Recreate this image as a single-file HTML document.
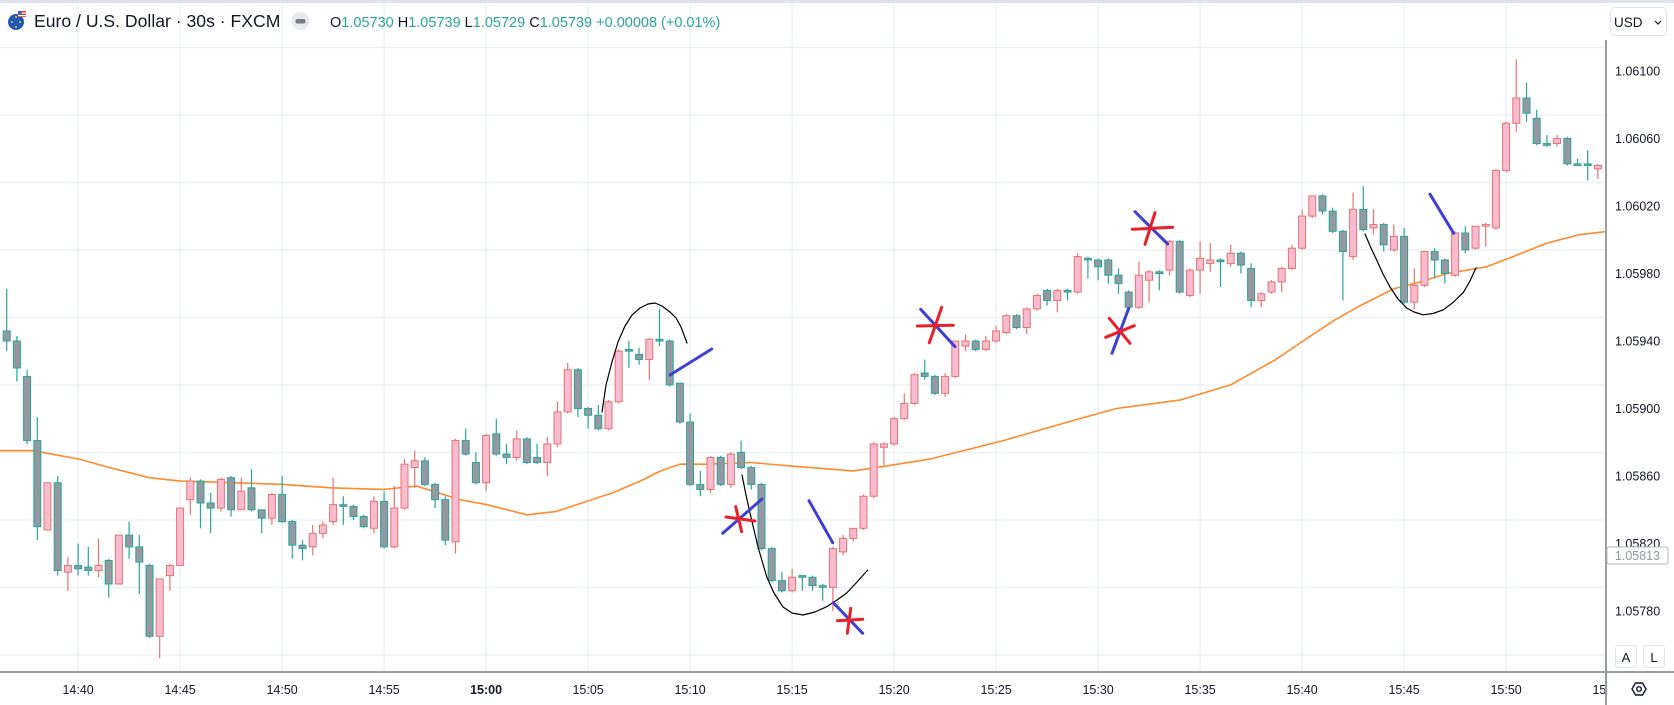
<!DOCTYPE html>
<html><head><meta charset="utf-8"><style>
html,body{margin:0;padding:0;background:#fff;width:1674px;height:705px;overflow:hidden;font-family:"Liberation Sans",sans-serif}
svg{display:block}
</style></head><body>
<svg id="chart" width="1674" height="705" viewBox="0 0 1674 705" xmlns="http://www.w3.org/2000/svg">
<rect x="0" y="0" width="1674" height="705" fill="#fff"/>
<rect x="0" y="0" width="1674" height="3" fill="#e0e3eb"/>
<defs><clipPath id="plotclip"><rect x="0" y="3" width="1606" height="669"/></clipPath></defs>
<g id="grid"></g>
<g id="ma" clip-path="url(#plotclip)"></g>
<g id="candles" clip-path="url(#plotclip)"></g>
<g id="drawings" fill="none" stroke-linecap="round" stroke-linejoin="round">
  <polyline stroke="#000" stroke-width="1.2" points="602,412 606,385 612,362 618,342 625,326 632,315 640,308 648,304 655,303 662,306 670,312 676,318 681,327 687,343"/>
  <polyline stroke="#000" stroke-width="1.2" points="742,475 746,495 750,513 758,547 766.7,576.7 774,593 783,607 792,613 803,615 815,612 826.7,606.7 837,600 846.7,593 857,582 867.7,570"/>
  <polyline stroke="#000" stroke-width="1.2" points="1365,234 1371,248 1376.7,260 1383,274 1390,287 1398,299 1406.7,308 1414,312 1423.3,314.8 1433,313.5 1443.3,309.8 1453,302.5 1463.3,292.6 1470,281 1476,267.7"/>
  <line x1="670" y1="375" x2="711.7" y2="349" stroke="#4040d0" stroke-width="3"/>
  <line x1="722.7" y1="533.3" x2="762" y2="499" stroke="#4040d0" stroke-width="3"/>
  <line x1="726" y1="517" x2="755" y2="521" stroke="#e8202a" stroke-width="3"/>
  <line x1="735.7" y1="506.7" x2="741.7" y2="531.7" stroke="#e8202a" stroke-width="3"/>
  <line x1="809" y1="500.7" x2="832.7" y2="542.7" stroke="#4040d0" stroke-width="3"/>
  <line x1="833.3" y1="602.7" x2="862.7" y2="633.3" stroke="#4040d0" stroke-width="3"/>
  <line x1="837.3" y1="620.7" x2="862.7" y2="619.3" stroke="#e8202a" stroke-width="3"/>
  <line x1="850.7" y1="608.3" x2="847.3" y2="633.3" stroke="#e8202a" stroke-width="3"/>
  <line x1="920.7" y1="309.3" x2="955" y2="346.7" stroke="#4040d0" stroke-width="3"/>
  <line x1="917.3" y1="326" x2="953.3" y2="325.3" stroke="#e8202a" stroke-width="3"/>
  <line x1="941.7" y1="307.3" x2="929.3" y2="342.7" stroke="#e8202a" stroke-width="3"/>
  <line x1="1112" y1="353.3" x2="1128.7" y2="308.3" stroke="#4040d0" stroke-width="3"/>
  <line x1="1105.7" y1="337.3" x2="1134.3" y2="325.7" stroke="#e8202a" stroke-width="3"/>
  <line x1="1109.3" y1="318.3" x2="1130" y2="343.3" stroke="#e8202a" stroke-width="3"/>
  <line x1="1135" y1="211.7" x2="1167.7" y2="244" stroke="#4040d0" stroke-width="3"/>
  <line x1="1132.3" y1="229.3" x2="1172.7" y2="227.3" stroke="#e8202a" stroke-width="3"/>
  <line x1="1155" y1="212.7" x2="1145" y2="244.3" stroke="#e8202a" stroke-width="3"/>
  <line x1="1430" y1="194.2" x2="1453.7" y2="233.3" stroke="#4040d0" stroke-width="3"/>
</g>
<g id="axes">
  <rect x="0" y="671" width="1674" height="2" fill="#9a9ca3"/>
  <rect x="1605" y="40" width="2" height="665" fill="#9a9ca3"/>
</g>
<g id="ylabels" font-size="12.5" fill="#131722"></g>
<g id="xlabels" font-size="12.5" fill="#131722"></g>
<g>
  <rect x="1607" y="547" width="61" height="17" rx="2" fill="#fff" stroke="#b2b5be" stroke-width="1"/>
  <text x="1637.5" y="560" text-anchor="middle" font-size="12.5" fill="#9598a1">1.05813</text>
</g>
<g>
  <g>
    <circle cx="16" cy="22" r="8" fill="#1f57b8"/>
    <circle cx="16" cy="17" r="1" fill="#f7d31b"/><circle cx="12" cy="22" r="1" fill="#f7d31b"/><circle cx="20" cy="22" r="1" fill="#f7d31b"/><circle cx="16" cy="27" r="1" fill="#f7d31b"/>
    <rect x="18" y="11" width="8" height="6" fill="#e53935"/><rect x="18" y="12.5" width="8" height="1.2" fill="#fff"/><rect x="18" y="15" width="8" height="1.2" fill="#fff"/><rect x="18" y="11" width="3.5" height="3" fill="#2c5cc5"/>
  </g>
  <text x="34" y="27" font-size="17.6" fill="#131722">Euro / U.S. Dollar · 30s · FXCM</text>
  <circle cx="300.5" cy="21" r="9" fill="#e8e9ed"/>
  <rect x="295.5" y="19" width="10" height="4.5" rx="2" fill="#787b86"/>
  <text x="330" y="27" font-size="14.5" fill="#26a69a"><tspan fill="#131722">O</tspan>1.05730 <tspan fill="#131722">H</tspan>1.05739 <tspan fill="#131722">L</tspan>1.05729 <tspan fill="#131722">C</tspan>1.05739 +0.00008 (+0.01%)</text>
</g>
<g>
  <rect x="1610.5" y="7.5" width="56" height="28" rx="4" fill="#fff" stroke="#e0e3eb"/>
  <text x="1614" y="27" font-size="13.5" fill="#131722">USD</text>
  <path d="M1655 21 l3 3 l3 -3" fill="none" stroke="#131722" stroke-width="1.2"/>
</g>
<g>
  <rect x="1615.5" y="645.5" width="21" height="22" rx="3" fill="#fff" stroke="#e0e3eb"/>
  <text x="1626" y="662" text-anchor="middle" font-size="13" fill="#131722">A</text>
</g>
<g>
  <rect x="1643.5" y="645.5" width="21" height="22" rx="3" fill="#fff" stroke="#e0e3eb"/>
  <text x="1654" y="662" text-anchor="middle" font-size="13" fill="#131722">L</text>
</g>
<g>
  <path d="M1632 689 l3.5 -6 h7 l3.5 6 l-3.5 6 h-7 z" fill="none" stroke="#131722" stroke-width="1.4"/>
  <circle cx="1639" cy="689" r="2.3" fill="none" stroke="#131722" stroke-width="1.4"/>
</g>
</svg>
<script>
const opens=[1.05946,1.05940,1.05919,1.05881,1.05828,1.05856,1.05803,1.05807,1.05806,1.05804,1.05810,1.05796,1.05825,1.05818,1.05807,1.05765,1.05801,1.05807,1.05846,1.05857,1.05844,1.05841,1.05859,1.05840,1.05853,1.05840,1.05835,1.05849,1.05833,1.05819,1.05818,1.05826,1.05833,1.05843,1.05842,1.05836,1.05829,1.05845,1.05818,1.05841,1.05865,1.05869,1.05855,1.05846,1.05821,1.05881,1.05868,1.05856,1.05885,1.05873,1.05871,1.05882,1.05871,1.05868,1.05879,1.05898,1.05923,1.05900,1.05896,1.05888,1.05904,1.05935,1.05932,1.05929,1.05941,1.05940,1.05915,1.05892,1.05855,1.05852,1.05871,1.05855,1.05874,1.05865,1.05855,1.05817,1.05798,1.05792,1.05801,1.05800,1.05795,1.05794,1.05815,1.05823,1.05829,1.05848,1.05877,1.05879,1.05894,1.05903,1.05921,1.05919,1.05909,1.05919,1.05937,1.05940,1.05935,1.05940,1.05945,1.05955,1.05948,1.05959,1.05970,1.05964,1.05970,1.05969,1.05989,1.05988,1.05988,1.05979,1.05969,1.05960,1.05976,1.05981,1.05982,1.05999,1.05967,1.05982,1.05986,1.05988,1.05986,1.05992,1.05983,1.05964,1.05969,1.05975,1.05983,1.05995,1.06014,1.06026,1.06017,1.06005,1.05990,1.06018,1.06007,1.06009,1.05994,1.06002,1.05963,1.05973,1.05993,1.05988,1.05979,1.06004,1.05995,1.06008,1.06007,1.06041,1.06069,1.06084,1.06072,1.06057,1.06057,1.06060,1.06045,1.06045,1.06042];
const highs=[1.05971,1.05943,1.05923,1.05895,1.05856,1.05860,1.05812,1.05820,1.05818,1.05823,1.05811,1.05825,1.05833,1.05825,1.05808,1.05799,1.05808,1.05841,1.05859,1.05858,1.05850,1.05859,1.05860,1.05859,1.05864,1.05840,1.05850,1.05860,1.05834,1.05822,1.05831,1.05833,1.05859,1.05848,1.05843,1.05837,1.05848,1.05851,1.05854,1.05870,1.05875,1.05871,1.05856,1.05848,1.05882,1.05888,1.05874,1.05885,1.05894,1.05879,1.05887,1.05883,1.05879,1.05883,1.05904,1.05927,1.05924,1.05901,1.05902,1.05905,1.05935,1.05940,1.05936,1.05942,1.05959,1.05941,1.05915,1.05897,1.05863,1.05872,1.05872,1.05874,1.05881,1.05866,1.05856,1.05818,1.05803,1.05805,1.05801,1.05801,1.05796,1.05818,1.05825,1.05829,1.05849,1.05880,1.05880,1.05895,1.05909,1.05921,1.05929,1.05920,1.05921,1.05940,1.05944,1.05941,1.05943,1.05949,1.05956,1.05956,1.05960,1.05968,1.05971,1.05971,1.05971,1.05992,1.05990,1.05989,1.05989,1.05983,1.05970,1.05987,1.05982,1.05982,1.06000,1.06000,1.05983,1.05999,1.05998,1.05989,1.05997,1.05993,1.05986,1.05969,1.05976,1.05984,1.05997,1.06018,1.06026,1.06027,1.06019,1.06006,1.06028,1.06032,1.06018,1.06010,1.06009,1.06007,1.05983,1.05993,1.05995,1.05989,1.06005,1.06008,1.06008,1.06010,1.06042,1.06070,1.06107,1.06093,1.06077,1.06062,1.06062,1.06061,1.06048,1.06053,1.06045];
const lows=[1.05934,1.05916,1.05879,1.05822,1.05828,1.05801,1.05792,1.05801,1.05801,1.05800,1.05788,1.05796,1.05811,1.05790,1.05764,1.05752,1.05792,1.05807,1.05837,1.05829,1.05826,1.05839,1.05836,1.05840,1.05839,1.05826,1.05831,1.05832,1.05811,1.05810,1.05813,1.05823,1.05831,1.05831,1.05834,1.05829,1.05826,1.05817,1.05817,1.05840,1.05853,1.05854,1.05841,1.05819,1.05814,1.05872,1.05855,1.05851,1.05872,1.05867,1.05869,1.05867,1.05867,1.05860,1.05877,1.05897,1.05895,1.05888,1.05887,1.05887,1.05903,1.05924,1.05926,1.05917,1.05937,1.05913,1.05891,1.05854,1.05848,1.05850,1.05854,1.05853,1.05864,1.05852,1.05816,1.05797,1.05791,1.05791,1.05792,1.05792,1.05786,1.05780,1.05813,1.05821,1.05828,1.05847,1.05866,1.05878,1.05893,1.05902,1.05917,1.05908,1.05907,1.05918,1.05934,1.05934,1.05934,1.05939,1.05944,1.05947,1.05944,1.05958,1.05961,1.05957,1.05964,1.05968,1.05977,1.05976,1.05974,1.05968,1.05957,1.05959,1.05963,1.05970,1.05979,1.05968,1.05966,1.05968,1.05981,1.05972,1.05984,1.05980,1.05960,1.05960,1.05968,1.05969,1.05982,1.05994,1.06013,1.06015,1.06004,1.05964,1.05988,1.06005,1.06003,1.05993,1.05993,1.05962,1.05959,1.05972,1.05977,1.05974,1.05978,1.05992,1.05994,1.05996,1.06006,1.06040,1.06064,1.06070,1.06056,1.06055,1.06055,1.06044,1.06044,1.06035,1.06036];
const closes=[1.05940,1.05924,1.05881,1.05830,1.05856,1.05804,1.05807,1.05805,1.05804,1.05807,1.05796,1.05825,1.05818,1.05809,1.05765,1.05799,1.05807,1.05841,1.05857,1.05844,1.05841,1.05858,1.05840,1.05851,1.05840,1.05835,1.05849,1.05833,1.05819,1.05817,1.05826,1.05831,1.05843,1.05842,1.05836,1.05830,1.05845,1.05818,1.05841,1.05867,1.05869,1.05855,1.05846,1.05822,1.05881,1.05873,1.05856,1.05884,1.05873,1.05871,1.05882,1.05868,1.05868,1.05879,1.05898,1.05923,1.05900,1.05896,1.05888,1.05904,1.05934,1.05934,1.05929,1.05941,1.05940,1.05914,1.05892,1.05855,1.05852,1.05871,1.05855,1.05873,1.05865,1.05855,1.05817,1.05798,1.05792,1.05800,1.05800,1.05795,1.05794,1.05817,1.05823,1.05829,1.05848,1.05879,1.05879,1.05894,1.05903,1.05920,1.05919,1.05909,1.05919,1.05940,1.05940,1.05935,1.05940,1.05946,1.05955,1.05948,1.05959,1.05967,1.05964,1.05970,1.05969,1.05990,1.05988,1.05984,1.05979,1.05974,1.05960,1.05979,1.05981,1.05980,1.05999,1.05969,1.05982,1.05989,1.05988,1.05987,1.05992,1.05985,1.05964,1.05968,1.05975,1.05983,1.05995,1.06014,1.06026,1.06017,1.06005,1.05993,1.06018,1.06006,1.06009,1.05997,1.06002,1.05963,1.05973,1.05993,1.05988,1.05980,1.06004,1.05994,1.06008,1.06009,1.06041,1.06069,1.06084,1.06075,1.06057,1.06056,1.06060,1.06045,1.06044,1.06044,1.06044];
const maIndex=[-1,2.6,7.1,10.1,14,17,22.2,27.1,31.7,36.9,40.2,41.8,44.4,47.1,51,53.9,56.9,59.4,62.1,64.1,66,68.6,72.9,76.8,83,86.3,90.5,97.7,102.3,105.2,108.8,115,120,124.4,127.1,130.1,132.7,136,138.6,141.2,145.1,147.7,151,154.2,157];
const maValues=[1.05875,1.05875,1.05870,1.05865,1.05859,1.05857,1.05856,1.05855,1.05853,1.05852,1.05854,1.05851,1.05846,1.05843,1.05837,1.05839,1.05845,1.05850,1.05857,1.05863,1.05867,1.05867,1.05868,1.05866,1.05863,1.05866,1.05870,1.05881,1.05889,1.05894,1.05900,1.05905,1.05914,1.05929,1.05940,1.05952,1.05961,1.05971,1.05975,1.05980,1.05984,1.05990,1.05998,1.06003,1.06005];
const priceTicks=[1.06100,1.06060,1.06020,1.05980,1.05940,1.05900,1.05860,1.05820,1.05780];
const gridPrices=[1.06100,1.06060,1.06020,1.05980,1.05940,1.05900,1.05860,1.05820,1.05780,1.05740];
const timeTickIndex=[7,17,27,37,47,57,67,77,87,97,107,117,127,137,147,157];
const timeTickLabels=["14:40","14:45","14:50","14:55","15:00","15:05","15:10","15:15","15:20","15:25","15:30","15:35","15:40","15:45","15:50","15:55"];

const NS="http://www.w3.org/2000/svg";
function xOf(i){return 6.7+i*10.2;}
function yOf(p){return 341-(p-1.0594)*168750;}
function mk(tag,attrs,parent){const e=document.createElementNS(NS,tag);for(const k in attrs)e.setAttribute(k,attrs[k]);parent.appendChild(e);return e;}

const grid=document.getElementById('grid');
gridPrices.forEach(p=>{
  const l=mk('line',{x1:0,x2:1606,y1:yOf(p)-23.5,y2:yOf(p)-23.5,stroke:'#e9eff4','stroke-width':1.2},grid);
  
  
});
timeTickIndex.forEach(i=>{
  if(xOf(i)>1604)return;
  const l=mk('line',{x1:xOf(i),x2:xOf(i),y1:3,y2:672,stroke:'#e9eff4','stroke-width':1.2},grid);
  
  
});

const ma=document.getElementById('ma');
const pts=maIndex.map((i,k)=>xOf(i).toFixed(1)+','+yOf(maValues[k]).toFixed(1)).join(' ');
const mal=mk('polyline',{points:pts,fill:'none',stroke:'#ff8a2b','stroke-width':1.6,'stroke-linejoin':'round'},ma);



const cg=document.getElementById('candles');
for(let i=0;i<opens.length;i++){
  const o=opens[i],c=closes[i],h=highs[i],l=lows[i];
  const up=c>=o;
  const x=xOf(i);
  const g=mk('g',{},cg);
  
  
  mk('line',{x1:x,x2:x,y1:yOf(h),y2:yOf(l),stroke:up?'#e57373':'#26a69a','stroke-width':1.2},g);
  const top=yOf(Math.max(o,c)),bot=yOf(Math.min(o,c));
  mk('rect',{x:x-3.5,y:top,width:7,height:Math.max(bot-top,1.5),fill:up?'#f8bbd0':'#9598a1',stroke:up?'#e57373':'#26a69a','stroke-width':1},g);
}

const yl=document.getElementById('ylabels');
priceTicks.forEach(p=>{
  const t=mk('text',{x:1615,y:yOf(p)+4.5},yl);
  t.textContent=p.toFixed(5);
  
  
});
const xl=document.getElementById('xlabels');
const xclip=mk('clipPath',{id:'xclip'},document.querySelector('defs'));
mk('rect',{x:0,y:672,width:1605,height:33},xclip);
xl.setAttribute('clip-path','url(#xclip)');
timeTickIndex.forEach((i,k)=>{
  const t=mk('text',{x:xOf(i),y:694,'text-anchor':'middle'},xl);
  if(timeTickLabels[k]==='15:00')t.setAttribute('font-weight','bold');
  t.textContent=timeTickLabels[k];
  
  
});
</script>
</body></html>
